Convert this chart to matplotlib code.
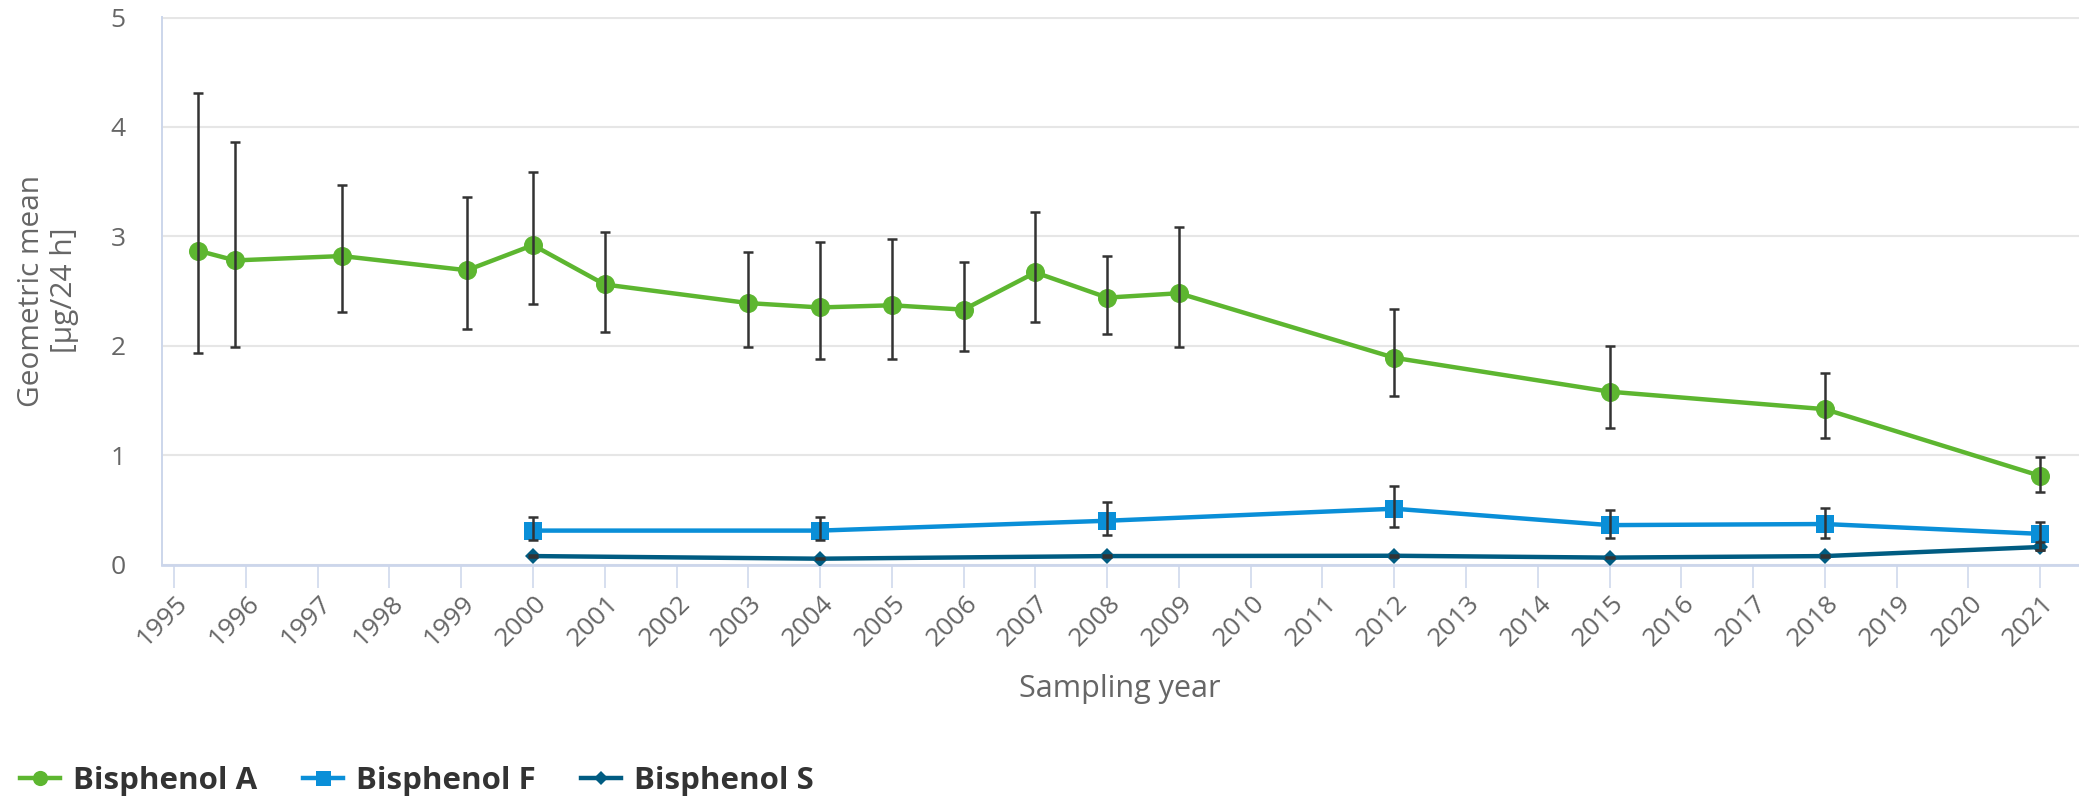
import matplotlib.pyplot as plt
import matplotlib.transforms as mtransforms
import numpy as np

plt.rcParams['font.family'] = ['Open Sans', 'DejaVu Sans']

# sampling years (decimal) and geometric means in µg/24 h with confidence limits
years_a = [1995.33, 1995.85, 1997.34, 1999.08, 2000, 2001, 2003, 2004, 2005,
           2006, 2007, 2008, 2009, 2012, 2015, 2018, 2021]
bpa = [2.87, 2.78, 2.82, 2.69, 2.92, 2.56, 2.39, 2.35, 2.37,
       2.33, 2.67, 2.44, 2.48, 1.89, 1.58, 1.42, 0.81]
bpa_lo = [1.93, 1.99, 2.31, 2.15, 2.38, 2.13, 1.99, 1.88, 1.88,
          1.95, 2.22, 2.11, 1.99, 1.54, 1.25, 1.16, 0.66]
bpa_hi = [4.31, 3.86, 3.47, 3.36, 3.59, 3.04, 2.86, 2.95, 2.98,
          2.77, 3.22, 2.82, 3.09, 2.34, 2.00, 1.75, 0.98]

years_fs = [2000, 2004, 2008, 2012, 2015, 2018, 2021]
bpf = [0.31, 0.31, 0.40, 0.51, 0.36, 0.37, 0.28]
bpf_lo = [0.22, 0.22, 0.27, 0.34, 0.24, 0.24, 0.13]
bpf_hi = [0.43, 0.43, 0.57, 0.72, 0.50, 0.52, 0.39]
bps = [0.077, 0.053, 0.077, 0.080, 0.063, 0.077, 0.16]
bps_lo = [0.070, 0.046, 0.070, 0.072, 0.056, 0.070, 0.13]
bps_hi = [0.084, 0.060, 0.084, 0.088, 0.070, 0.084, 0.21]

tick_years = list(range(1995, 2022))

green = '#5db630'
blue = '#0a8fd8'
teal = '#005c82'
grey = '#666666'
axis_col = '#ccd6eb'

W, H = 2079, 796
fig = plt.figure(figsize=(W / 100, H / 100), dpi=100)
left = 161.6 / W
ax = fig.add_axes([left, 1 - 564.5 / H, 1 - left, (564.5 - 16.5) / H])

la, = ax.plot(years_a, bpa, color=green, lw=3.2, marker='o', ms=13.7, mew=0,
              label='Bisphenol A', zorder=3)
lf, = ax.plot(years_fs, bpf, color=blue, lw=3.2, marker='s', ms=13.5, mew=0,
              label='Bisphenol F', zorder=3)
ls, = ax.plot(years_fs, bps, color=teal, lw=3.2, marker='D', ms=8.3, mew=0,
              label='Bisphenol S', zorder=3)

for xs, v, lo, hi in [(years_a, bpa, bpa_lo, bpa_hi),
                      (years_fs, bpf, bpf_lo, bpf_hi),
                      (years_fs, bps, bps_lo, bps_hi)]:
    v = np.array(v)
    err = [v - np.array(lo), np.array(hi) - v]
    ax.errorbar(xs, v, yerr=err, fmt='none', ecolor='#333333',
                elinewidth=1.8, capsize=3.8, capthick=1.8, zorder=5)

ax.set_xlim(1994.826, 2021.54)
ax.set_ylim(0, 5.01)
ax.set_yticks(range(0, 6))
ax.set_xticks(tick_years)
ax.set_xticklabels([str(y) for y in tick_years], rotation=45, ha='right',
                   va='center', rotation_mode='anchor')

ax.grid(axis='y', color='#e6e6e6', lw=1.5)
ax.set_axisbelow(True)
for s in ['top', 'right']:
    ax.spines[s].set_visible(False)
ax.spines['left'].set_color(axis_col)
ax.spines['left'].set_linewidth(1.4)
ax.spines['bottom'].set_color(axis_col)
ax.spines['bottom'].set_linewidth(2.0)

ax.tick_params(axis='x', direction='out', length=16.5, width=1.1,
               color=axis_col, labelcolor=grey, labelsize=19, pad=8.5)
ax.tick_params(axis='y', length=0, labelcolor=grey, labelsize=19, pad=26)

# push rotated year labels slightly right of their ticks
offset = mtransforms.ScaledTranslation(10 / 100, 0, fig.dpi_scale_trans)
for lab in ax.get_xticklabels():
    lab.set_transform(lab.get_transform() + offset)

fig.text(48 / W, 1 - 290.5 / H, 'Geometric mean\n[µg/24 h]', rotation=90,
         ha='center', va='center', multialignment='center', color=grey,
         fontsize=21.5, linespacing=1.15)
fig.text(1120 / W, 1 - 689 / H, 'Sampling year', ha='center', va='center',
         color=grey, fontsize=22)

fig.legend(handles=[la, lf, ls], loc='center left',
           bbox_to_anchor=(20 / W, 1 - 781 / H), ncol=3, frameon=False,
           prop={'weight': 'bold', 'size': 22.5}, labelcolor='#333333',
           handlelength=1.28, handletextpad=0.42, columnspacing=1.45,
           markerscale=0.8, borderpad=0, borderaxespad=0)

fig.savefig('out.png', dpi=100)
